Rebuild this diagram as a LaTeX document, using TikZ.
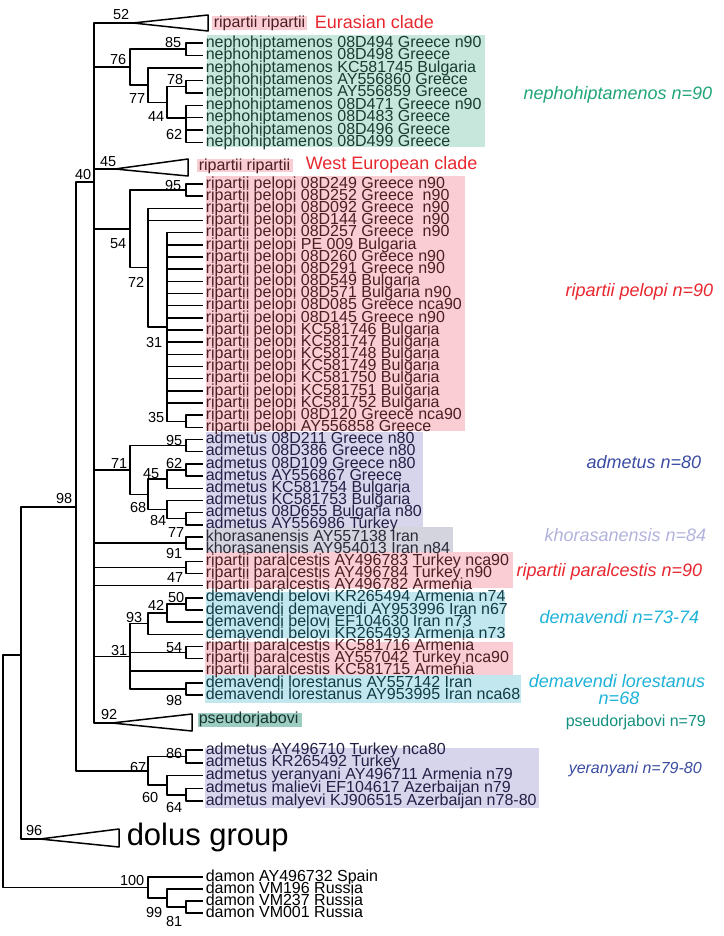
\documentclass[tikz,border=0pt]{standalone}
\usepackage{fontspec}
\setmainfont{Liberation Sans}
\definecolor{pinkbg}{HTML}{F9CDD3}
\definecolor{pinktext}{HTML}{4B1E22}
\definecolor{greenbg}{HTML}{C8E7DC}
\definecolor{greentext}{HTML}{173C30}
\definecolor{lavbg}{HTML}{D7D5EB}
\definecolor{lavtext}{HTML}{222045}
\definecolor{greybg}{HTML}{D4D4DE}
\definecolor{greytext}{HTML}{2A2A3A}
\definecolor{cyanbg}{HTML}{C3E7EE}
\definecolor{cyantext}{HTML}{0F3C45}
\definecolor{tealbg}{HTML}{9DCCC0}
\definecolor{tealtext}{HTML}{16332E}
\definecolor{cladered}{HTML}{E8262E}
\definecolor{nephgreen}{HTML}{1FA576}
\definecolor{admblue}{HTML}{3B4CA2}
\definecolor{khorlav}{HTML}{B2B3DC}
\definecolor{demcyan}{HTML}{1EB2D9}
\definecolor{pseuteal}{HTML}{15907E}
\begin{document}
\begin{tikzpicture}
    [x=1pt,y=-1pt,line width=1.5pt,line join=round,
    leaf/.style={anchor=west,inner xsep=2pt,inner ysep=0pt,text height=8.3pt,text depth=0pt,font=\fontsize{16}{16}\selectfont},
    neph/.style={leaf,text=greentext},
    pel/.style={leaf,text=pinktext},
    adm/.style={leaf,text=lavtext},
    kho/.style={leaf,text=greytext},
    dem/.style={leaf,text=cyantext},
    bs/.style={anchor=base east,inner sep=0pt,font=\fontsize{14.5}{14.5}\selectfont},
    note/.style={anchor=base east,inner sep=0pt,font=\fontsize{18}{18}\selectfont\itshape},
    clade/.style={anchor=base west,inner sep=0pt,text=cladered,font=\fontsize{18}{18}\selectfont}]
    \useasboundingbox (0,0) rectangle (723,936);
    %colour boxes
    \fill[pinkbg] (212,16) rectangle (307,30);
    \fill[greenbg] (207,35) rectangle (485,147);
    \fill[pinkbg] (197,159) rectangle (293,172);
    \fill[pinkbg] (206,176) rectangle (465,431);
    \fill[lavbg] (206,432) rectangle (423,527);
    \fill[greybg] (206,527) rectangle (453,552);
    \fill[pinkbg] (206,552) rectangle (513,588);
    \fill[cyanbg] (206,592) rectangle (505,638);
    \fill[pinkbg] (205,642) rectangle (513,675);
    \fill[cyanbg] (205,675) rectangle (521,703);
    \fill[tealbg] (198,713) rectangle (302,727);
    \fill[lavbg] (205,748) rectangle (539,808);
    %internal nodes
    \coordinate (nRoot) at (3,770);
    \coordinate (nIn) at (21,655);
    \coordinate (n98) at (76,507);
    \coordinate (n40) at (94,182);
    \coordinate (eurApex) at (133,23);
    \coordinate (n76) at (130,67.2);
    \coordinate (n85) at (186,49.2);
    \coordinate (n77) at (148,85.1);
    \coordinate (n44) at (167,102.3);
    \coordinate (n78) at (186,86.6);
    \coordinate (n62) at (186,118);
    \coordinate (westApex) at (115,169);
    \coordinate (n54) at (130,228.9);
    \coordinate (n95) at (186,190.1);
    \coordinate (n72) at (148,267.7);
    \coordinate (n31) at (167,327);
    \coordinate (n35) at (186,421.3);
    \coordinate (n71) at (130,470);
    \coordinate (n95b) at (186,445.7);
    \coordinate (n68) at (148,494.4);
    \coordinate (n45) at (167,479.2);
    \coordinate (n62b) at (186,470);
    \coordinate (n84) at (167,509.6);
    \coordinate (n77b) at (186,518.7);
    \coordinate (n91) at (186,543);
    \coordinate (n47) at (186,567.4);
    \coordinate (n31b) at (130,656.4);
    \coordinate (n93) at (148,623.7);
    \coordinate (n42) at (167,613);
    \coordinate (n50) at (186,603.9);
    \coordinate (n54b) at (186,652.6);
    \coordinate (n98b) at (186,689);
    \coordinate (pseuApex) at (112,723);
    \coordinate (n67) at (148,771);
    \coordinate (n86) at (186,756.4);
    \coordinate (n60) at (167,785.2);
    \coordinate (n64) at (186,794.8);
    \coordinate (dolApex) at (40,839);
    \coordinate (n100) at (148,887.5);
    \coordinate (n99) at (167,898);
    \coordinate (n81) at (186,907);
    %collapsed clades
    \draw (eurApex) -- ++(75,-8) -- ++(0,16) -- cycle;
    \draw (westApex) -- ++(73,-10) -- ++(0,17) -- cycle;
    \draw (pseuApex) -- ++(80,-9) -- ++(0,17) -- cycle;
    \draw (dolApex) -- ++(79,-10) -- ++(0,18) -- cycle;
    \node[pel] (eurLab) at (211,23) {ripartii ripartii};
    \node[pel] (westLab) at (196,166) {ripartii ripartii};
    \node[leaf,text=tealtext] (pseuLab) at (196,719) {pseudorjabovi};
    \node[anchor=base west,inner sep=0pt,font=\fontsize{31}{31}\selectfont] (dolLab) at (126,845) {dolus group};
    %leaves nephohiptamenos
    \node[neph] (neph0) at (203,43.0) {nephohiptamenos 08D494 Greece n90};
    \node[neph] (neph1) at (203,55.5) {nephohiptamenos 08D498 Greece};
    \node[neph] (neph2) at (203,67.9) {nephohiptamenos KC581745 Bulgaria};
    \node[neph] (neph3) at (203,80.4) {nephohiptamenos AY556860 Greece};
    \node[neph] (neph4) at (203,92.8) {nephohiptamenos AY556859 Greece};
    \node[neph] (neph5) at (203,105.3) {nephohiptamenos 08D471 Greece n90};
    \node[neph] (neph6) at (203,117.7) {nephohiptamenos 08D483 Greece};
    \node[neph] (neph7) at (203,130.2) {nephohiptamenos 08D496 Greece};
    \node[neph] (neph8) at (203,142.6) {nephohiptamenos 08D499 Greece};
    %leaves pelopi
    \node[pel] (pel0) at (203,184.0) {ripartii pelopi 08D249 Greece n90};
    \node[pel] (pel1) at (203,196.2) {ripartii pelopi 08D252 Greece~~n90};
    \node[pel] (pel2) at (203,208.3) {ripartii pelopi 08D092 Greece~~n90};
    \node[pel] (pel3) at (203,220.5) {ripartii pelopi 08D144 Greece~~n90};
    \node[pel] (pel4) at (203,232.7) {ripartii pelopi 08D257 Greece~~n90};
    \node[pel] (pel5) at (203,244.9) {ripartii pelopi PE 009 Bulgaria};
    \node[pel] (pel6) at (203,257.0) {ripartii pelopi 08D260 Greece n90};
    \node[pel] (pel7) at (203,269.2) {ripartii pelopi 08D291 Greece n90};
    \node[pel] (pel8) at (203,281.4) {ripartii pelopi 08D549 Bulgaria};
    \node[pel] (pel9) at (203,293.5) {ripartii pelopi 08D571 Bulgaria n90};
    \node[pel] (pel10) at (203,305.7) {ripartii pelopi 08D085 Greece nca90};
    \node[pel] (pel11) at (203,317.9) {ripartii pelopi 08D145 Greece n90};
    \node[pel] (pel12) at (203,330.0) {ripartii pelopi KC581746 Bulgaria};
    \node[pel] (pel13) at (203,342.2) {ripartii pelopi KC581747 Bulgaria};
    \node[pel] (pel14) at (203,354.4) {ripartii pelopi KC581748 Bulgaria};
    \node[pel] (pel15) at (203,366.6) {ripartii pelopi KC581749 Bulgaria};
    \node[pel] (pel16) at (203,378.7) {ripartii pelopi KC581750 Bulgaria};
    \node[pel] (pel17) at (203,390.9) {ripartii pelopi KC581751 Bulgaria};
    \node[pel] (pel18) at (203,403.1) {ripartii pelopi KC581752 Bulgaria};
    \node[pel] (pel19) at (203,415.2) {ripartii pelopi 08D120 Greece nca90};
    \node[pel] (pel20) at (203,427.4) {ripartii pelopi AY556858 Greece};
    %leaves admetus
    \node[adm] (adm0) at (203,439.6) {admetus 08D211 Greece n80};
    \node[adm] (adm1) at (203,451.7) {admetus 08D386 Greece n80};
    \node[adm] (adm2) at (203,463.9) {admetus 08D109 Greece n80};
    \node[adm] (adm3) at (203,476.1) {admetus AY556867 Greece};
    \node[adm] (adm4) at (203,488.3) {admetus KC581754 Bulgaria};
    \node[adm] (adm5) at (203,500.4) {admetus KC581753 Bulgaria};
    \node[adm] (adm6) at (203,512.6) {admetus 08D655 Bulgaria n80};
    \node[adm] (adm7) at (203,524.8) {admetus AY556986 Turkey};
    \node[kho] (kho0) at (203,536.9) {khorasanensis AY557138 Iran};
    \node[kho] (kho1) at (203,549.1) {khorasanensis AY954013 Iran n84};
    \node[pel] (par0) at (203,561.3) {ripartii paralcestis AY496783 Turkey nca90};
    \node[pel] (par1) at (203,573.4) {ripartii paralcestis AY496784 Turkey n90};
    \node[pel] (par2) at (203,585.6) {ripartii paralcestis AY496782 Armenia};
    \node[dem] (dem0) at (203,597.8) {demavendi belovi KR265494 Armenia n74};
    \node[dem] (dem1) at (203,610.0) {demavendi demavendi AY953996 Iran n67};
    \node[dem] (dem2) at (203,622.1) {demavendi belovi EF104630 Iran n73};
    \node[dem] (dem3) at (203,634.3) {demavendi belovi KR265493 Armenia n73};
    \node[pel] (pat0) at (203,646.5) {ripartii paralcestis KC581716 Armenia};
    \node[pel] (pat1) at (203,658.6) {ripartii paralcestis AY557042 Turkey nca90};
    \node[pel] (pat2) at (203,670.8) {ripartii paralcestis KC581715 Armenia};
    \node[dem] (lor0) at (203,683.0) {demavendi lorestanus AY557142 Iran};
    \node[dem] (lor1) at (203,695.1) {demavendi lorestanus AY953995 Iran nca68};
    %leaves yeranyani
    \node[adm] (yer0) at (203,750.0) {admetus AY496710 Turkey nca80};
    \node[adm] (yer1) at (203,762.8) {admetus KR265492 Turkey};
    \node[adm] (yer2) at (203,775.6) {admetus yeranyani AY496711 Armenia n79};
    \node[adm] (yer3) at (203,788.4) {admetus malievi EF104617 Azerbaijan n79};
    \node[adm] (yer4) at (203,801.2) {admetus malyevi KJ906515 Azerbaijan n78-80};
    %leaves damon
    \node[leaf] (dam0) at (203,877) {damon AY496732 Spain};
    \node[leaf] (dam1) at (203,889) {damon VM196 Russia};
    \node[leaf] (dam2) at (203,901) {damon VM237 Russia};
    \node[leaf] (dam3) at (203,913) {damon VM001 Russia};
    %branches
    \draw (nRoot) |- (nIn) (nRoot) |- (n100);
    \draw (nIn) |- (n98) (nIn) |- (dolApex);
    \draw (n98) |- (n40) (n98) |- (n67);
    \draw (n40) |- (eurApex) (n40) |- (n76) (n40) |- (westApex) (n40) |- (n54)
        (n40) |- (n71) (n40) |- (n91) (n40) |- (n47) (n40) |- (par2)
        (n40) |- (n31b) (n40) |- (pseuApex);
    \draw (n76) |- (n85) (n76) |- (n77);
    \draw (n85) |- (neph0) (n85) |- (neph1);
    \draw (n77) |- (neph2) (n77) |- (n44);
    \draw (n44) |- (n78) (n44) |- (n62);
    \draw (n78) |- (neph3) (n78) |- (neph4);
    \draw (n62) |- (neph5) (n62) |- (neph6) (n62) |- (neph7) (n62) |- (neph8);
    \draw (n54) |- (n95) (n54) |- (n72);
    \draw (n95) |- (pel0) (n95) |- (pel1);
    \draw (n72) |- (pel2) (n72) |- (pel3) (n72) |- (n31);
    \draw (n31) |- (pel4) (n31) |- (pel5) (n31) |- (pel6) (n31) |- (pel7)
        (n31) |- (pel8) (n31) |- (pel9) (n31) |- (pel10) (n31) |- (pel11)
        (n31) |- (pel12) (n31) |- (pel13) (n31) |- (pel14) (n31) |- (pel15)
        (n31) |- (pel16) (n31) |- (pel17) (n31) |- (pel18) (n31) |- (n35);
    \draw (n35) |- (pel19) (n35) |- (pel20);
    \draw (n71) |- (n95b) (n71) |- (n68);
    \draw (n95b) |- (adm0) (n95b) |- (adm1);
    \draw (n68) |- (n45) (n68) |- (n84);
    \draw (n45) |- (n62b) (n45) |- (adm4);
    \draw (n62b) |- (adm2) (n62b) |- (adm3);
    \draw (n84) |- (adm5) (n84) |- (n77b);
    \draw (n77b) |- (adm6) (n77b) |- (adm7);
    \draw (n91) |- (kho0) (n91) |- (kho1);
    \draw (n47) |- (par0) (n47) |- (par1);
    \draw (n31b) |- (n93) (n31b) |- (n54b) (n31b) |- (pat2) (n31b) |- (n98b);
    \draw (n93) |- (n42) (n93) |- (dem3);
    \draw (n42) |- (n50) (n42) |- (dem2);
    \draw (n50) |- (dem0) (n50) |- (dem1);
    \draw (n54b) |- (pat0) (n54b) |- (pat1);
    \draw (n98b) |- (lor0) (n98b) |- (lor1);
    \draw (n67) |- (n86) (n67) |- (n60);
    \draw (n86) |- (yer0) (n86) |- (yer1);
    \draw (n60) |- (yer2) (n60) |- (n64);
    \draw (n64) |- (yer3) (n64) |- (yer4);
    \draw (n100) |- (dam0) (n100) |- (n99);
    \draw (n99) |- (dam1) (n99) |- (n81);
    \draw (n81) |- (dam2) (n81) |- (dam3);
    %support values
    \node[bs] (bs52) at (130,20) {52};
    \node[bs] (bs85) at (182,48) {85};
    \node[bs] (bs76) at (127,65) {76};
    \node[bs] (bs78) at (184,85) {78};
    \node[bs] (bs77) at (146,104) {77};
    \node[bs] (bs44) at (165,122) {44};
    \node[bs] (bs62) at (183,140) {62};
    \node[bs] (bs45) at (117,167) {45};
    \node[bs] (bs40) at (92,179) {40};
    \node[bs] (bs95) at (182,190) {95};
    \node[bs] (bs54) at (127,248) {54};
    \node[bs] (bs72) at (145,287) {72};
    \node[bs] (bs31) at (163,347) {31};
    \node[bs] (bs35) at (165,422) {35};
    \node[bs] (bs95b) at (183,445) {95};
    \node[bs] (bs71) at (128,468) {71};
    \node[bs] (bs62b) at (183,468) {62};
    \node[bs] (bs45b) at (160,478) {45};
    \node[bs] (bs98) at (73,503) {98};
    \node[bs] (bs68) at (147,512) {68};
    \node[bs] (bs84) at (167,525) {84};
    \node[bs] (bs77b) at (185,537) {77};
    \node[bs] (bs91) at (183,558) {91};
    \node[bs] (bs47) at (184,582) {47};
    \node[bs] (bs50) at (185,602) {50};
    \node[bs] (bs42) at (165,610) {42};
    \node[bs] (bs93) at (143,622) {93};
    \node[bs] (bs54b) at (183,652) {54};
    \node[bs] (bs31b) at (128,655) {31};
    \node[bs] (bs98b) at (183,705) {98};
    \node[bs] (bs92) at (118,719) {92};
    \node[bs] (bs86) at (183,758) {86};
    \node[bs] (bs67) at (147,772) {67};
    \node[bs] (bs60) at (159,802) {60};
    \node[bs] (bs64) at (183,812) {64};
    \node[bs] (bs96) at (43,835) {96};
    \node[bs] (bs100) at (145,885) {100};
    \node[bs] (bs99) at (163,917) {99};
    \node[bs] (bs81) at (183,926) {81};
    %clade names
    \node[clade] (eurName) at (314,28.3) {Eurasian clade};
    \node[clade] (westName) at (305,169.3) {West European clade};
    \node[note,text=nephgreen] (nephName) at (713,100) {nephohiptamenos n=90};
    \node[note,text=cladered] (pelName) at (714,296) {ripartii pelopi n=90};
    \node[note,text=admblue] (admName) at (702,468) {admetus n=80};
    \node[note,text=khorlav] (khoName) at (707,541) {khorasanensis n=84};
    \node[note,text=cladered] (parName) at (703,576) {ripartii paralcestis n=90};
    \node[note,text=demcyan] (demName) at (700,623) {demavendi n=73-74};
    \node[note,anchor=base,text=demcyan] (lorName) at (617,687) {demavendi lorestanus};
    \node[note,anchor=base,text=demcyan] (lorNum) at (619,704) {n=68};
    \node[anchor=base west,inner sep=0pt,text=pseuteal,font=\fontsize{16}{16}\selectfont] (pseuName) at (565,726) {pseudorjabovi n=79};
    \node[note,anchor=base west,text=admblue,font=\fontsize{16}{16}\selectfont\itshape] (yerName) at (568,773) {yeranyani n=79-80};
\end{tikzpicture}
\end{document}
